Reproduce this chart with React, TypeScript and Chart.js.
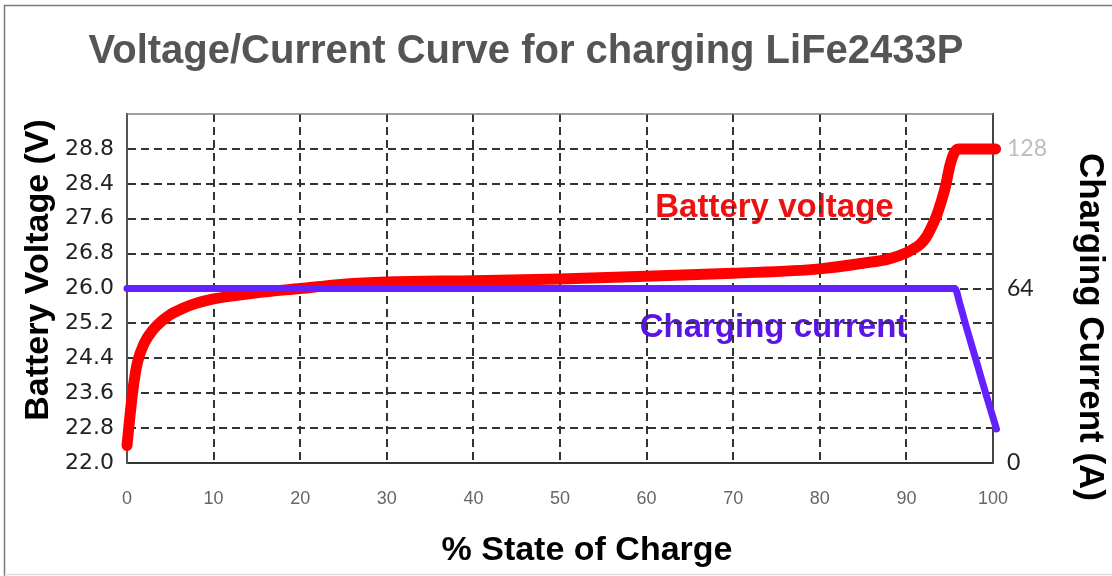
import React, { useEffect, useRef } from "react";
import { Chart, registerables } from "chart.js";

Chart.register(...registerables);

// ---- axis tick labels (the chart's axes are drawn on an even grid of rows) ----
const voltageTickLabels = ["22.0", "22.8", "23.6", "24.4", "25.2", "26.0", "26.8", "27.6", "28.4", "28.8"];
const voltageTickValues = [22.0, 22.8, 23.6, 24.4, 25.2, 26.0, 26.8, 27.6, 28.4, 28.8];
const voltageTickRows = [0, 1, 2, 3, 4, 5, 6, 7, 8, 9];
const currentTickLabels = ["0", "64", "128"];
const currentTickValues = [0, 64, 128];
const currentTickRows = [0, 5, 9];

// ---- series ----
const socVoltage = [0, 0.3, 0.7, 1.2, 2, 3, 4, 5, 6.5, 8, 10, 15, 20, 25, 30, 40, 50, 60, 70, 80, 85, 88, 90, 91, 91.5, 92, 92.5, 93, 93.5, 94, 94.5, 95, 95.5, 96, 100.3];
const batteryVoltage = [22.4, 23.0, 23.7, 24.3, 24.75, 25.05, 25.25, 25.4, 25.55, 25.66, 25.76, 25.9, 26.0, 26.1, 26.15, 26.18, 26.22, 26.28, 26.35, 26.45, 26.58, 26.68, 26.82, 26.93, 27.0, 27.1, 27.25, 27.45, 27.68, 27.98, 28.33, 28.6, 28.75, 28.8, 28.8];
const socCurrent = [0, 95.6, 96.2, 97.0, 98.2, 99.3, 100.4];
const chargingCurrent = [64, 64, 58, 49, 36, 24, 12.5];

const TITLE = "Voltage/Current Curve for charging LiFe2433P";
const X_TITLE = "% State of Charge";
const Y_LEFT_TITLE = "Battery Voltage (V)";
const Y_RIGHT_TITLE = "Charging Current (A)";
const NOTE_VOLTAGE = { text: "Battery voltage", soc: 61, volts: 27.64 };
const NOTE_CURRENT = { text: "Charging current", soc: 59.2, amps: 46.2 };

function toRow(v: number, values: number[], rows: number[]): number {
  if (v <= values[0]) return rows[0] + ((v - values[0]) / (values[1] - values[0])) * (rows[1] - rows[0]);
  for (let i = 1; i < values.length; i++) {
    if (v <= values[i]) {
      const t = (v - values[i - 1]) / (values[i] - values[i - 1]);
      return rows[i - 1] + t * (rows[i] - rows[i - 1]);
    }
  }
  const n = values.length - 1;
  return rows[n] + ((v - values[n]) / (values[n] - values[n - 1])) * (rows[n] - rows[n - 1]);
}
const vRow = (v: number) => toRow(v, voltageTickValues, voltageTickRows);
const aRow = (a: number) => toRow(a, currentTickValues, currentTickRows);

const SANS = '"Liberation Sans", Arial, Helvetica, sans-serif';

const decorPlugin = {
  id: "decor",
  beforeDraw(chart: any) {
    const { ctx, scales } = chart;
    const W = chart.width;
    const H = chart.height;
    ctx.save();
    ctx.fillStyle = "#ffffff";
    ctx.fillRect(0, 0, W, H);
    // outer frame
    ctx.strokeStyle = "#7a7a7a";
    ctx.lineWidth = 1.5;
    ctx.beginPath();
    ctx.moveTo(W, 5.5);
    ctx.lineTo(4.5, 5.5);
    ctx.lineTo(4.5, H);
    ctx.stroke();
    ctx.strokeStyle = "#dddddd";
    ctx.beginPath();
    ctx.moveTo(4.5, H - 1.5);
    ctx.lineTo(W, H - 1.5);
    ctx.stroke();

    // main title
    ctx.fillStyle = "#555555";
    ctx.font = `bold 40px ${SANS}`;
    ctx.textAlign = "center";
    ctx.textBaseline = "alphabetic";
    ctx.fillText(TITLE, 526, 63);

    // axis titles
    ctx.fillStyle = "#000000";
    ctx.font = `bold 34px ${SANS}`;
    ctx.fillText(X_TITLE, 587, 560);

    ctx.save();
    ctx.translate(48, 270);
    ctx.rotate(-Math.PI / 2);
    ctx.font = `bold 34px ${SANS}`;
    ctx.fillText(Y_LEFT_TITLE, 0, 0);
    ctx.restore();

    ctx.save();
    ctx.translate(1080, 327);
    ctx.rotate(Math.PI / 2);
    ctx.font = `bold 35px ${SANS}`;
    ctx.fillText(Y_RIGHT_TITLE, 0, 0);
    ctx.restore();

    // in-plot notes
    const xs = scales.x;
    const ys = scales.y;
    ctx.textAlign = "left";
    ctx.font = `bold 33px ${SANS}`;
    ctx.fillStyle = "#ee1111";
    ctx.fillText(NOTE_VOLTAGE.text, xs.getPixelForValue(NOTE_VOLTAGE.soc), ys.getPixelForValue(vRow(NOTE_VOLTAGE.volts)));
    ctx.font = `bold 33px ${SANS}`;
    ctx.fillStyle = "#5a14e6";
    ctx.fillText(NOTE_CURRENT.text, xs.getPixelForValue(NOTE_CURRENT.soc), ys.getPixelForValue(aRow(NOTE_CURRENT.amps)));
    ctx.restore();
  },
  beforeDatasetsDraw(chart: any) {
    const { ctx, chartArea } = chart;
    ctx.save();
    ctx.strokeStyle = "#808080";
    ctx.lineWidth = 1.5;
    ctx.beginPath();
    ctx.moveTo(chartArea.left, chartArea.top);
    ctx.lineTo(chartArea.right, chartArea.top);
    ctx.stroke();
    ctx.restore();
  },
};

export default function App() {
  const canvasRef = useRef<HTMLCanvasElement | null>(null);

  useEffect(() => {
    const canvas = canvasRef.current;
    if (!canvas) return;
    const voltagePoints = socVoltage.map((s, i) => ({ x: s, y: vRow(batteryVoltage[i]) }));
    const currentPoints = socCurrent.map((s, i) => ({ x: s, y: aRow(chargingCurrent[i]) }));

    const chart = new Chart(canvas, {
      type: "line",
      data: {
        datasets: [
          {
            label: "Charging current",
            data: currentPoints,
            borderColor: "#6420ff",
            borderWidth: 7,
            pointRadius: 0,
            cubicInterpolationMode: "monotone",
            borderCapStyle: "round",
            borderJoinStyle: "round",
            clip: false,
            order: 0,
            yAxisID: "y",
          },
          {
            label: "Battery voltage",
            data: voltagePoints,
            borderColor: "#ff0000",
            borderWidth: 11,
            pointRadius: 0,
            cubicInterpolationMode: "monotone",
            borderCapStyle: "round",
            borderJoinStyle: "round",
            clip: false,
            order: 1,
            yAxisID: "y",
          },
        ],
      },
      options: {
        animation: false,
        responsive: false,
        events: [],
        layout: { padding: { top: 114, left: 0, right: 0, bottom: 0 } },
        plugins: { legend: { display: false }, tooltip: { enabled: false }, title: { display: false } },
        scales: {
          x: {
            type: "linear",
            min: 0,
            max: 100,
            afterFit: (s: any) => {
              s.height = 113;
            },
            ticks: {
              stepSize: 10,
              padding: 25,
              color: "#666666",
              font: { family: SANS, size: 18 },
              callback: (v: any) => String(v),
            },
            grid: {
              drawTicks: false,
              lineWidth: 2,
              color: (c: any) => (c.tick && (c.tick.value === 0 || c.tick.value === 100) ? "rgba(0,0,0,0)" : "#333333"),
            },
            border: { display: true, color: "#333333", width: 2, dash: [8, 5] },
          },
          y: {
            type: "linear",
            position: "left",
            min: 0,
            max: 10,
            afterFit: (s: any) => {
              s.width = 127;
            },
            ticks: {
              stepSize: 1,
              padding: 13,
              color: "#222222",
              font: { family: '"DejaVu Sans", sans-serif', size: 22 },
              callback: (v: any) => {
                const i = voltageTickRows.indexOf(Math.round(Number(v)));
                return i >= 0 ? voltageTickLabels[i] : "";
              },
            },
            grid: {
              drawTicks: false,
              lineWidth: 2,
              color: (c: any) => (c.tick && (c.tick.value === 0 || c.tick.value === 10) ? "rgba(0,0,0,0)" : "#333333"),
            },
            border: { display: true, color: "#555555", width: 2, dash: [8, 5] },
          },
          y2: {
            type: "linear",
            position: "right",
            min: 0,
            max: 10,
            afterFit: (s: any) => {
              s.width = 119;
            },
            ticks: {
              stepSize: 1,
              padding: 14,
              color: (c: any) => (c.tick && c.tick.value === 9 ? "#bdbdbd" : "#222222"),
              font: { family: "Lato, sans-serif", size: 23 },
              callback: (v: any) => {
                const i = currentTickRows.indexOf(Math.round(Number(v)));
                return i >= 0 ? currentTickLabels[i] : "";
              },
            },
            grid: { drawOnChartArea: false, drawTicks: false },
            border: { display: true, color: "#444444", width: 2 },
          },
        },
      },
      plugins: [decorPlugin],
    } as any);
    return () => chart.destroy();
  }, []);

  return (
    <div style={{ position: "absolute", left: 0, top: 0, width: 1112, height: 576, background: "#fff" }}>
      <canvas ref={canvasRef} width={1112} height={576} style={{ display: "block", width: 1112, height: 576 }} />
    </div>
  );
}
